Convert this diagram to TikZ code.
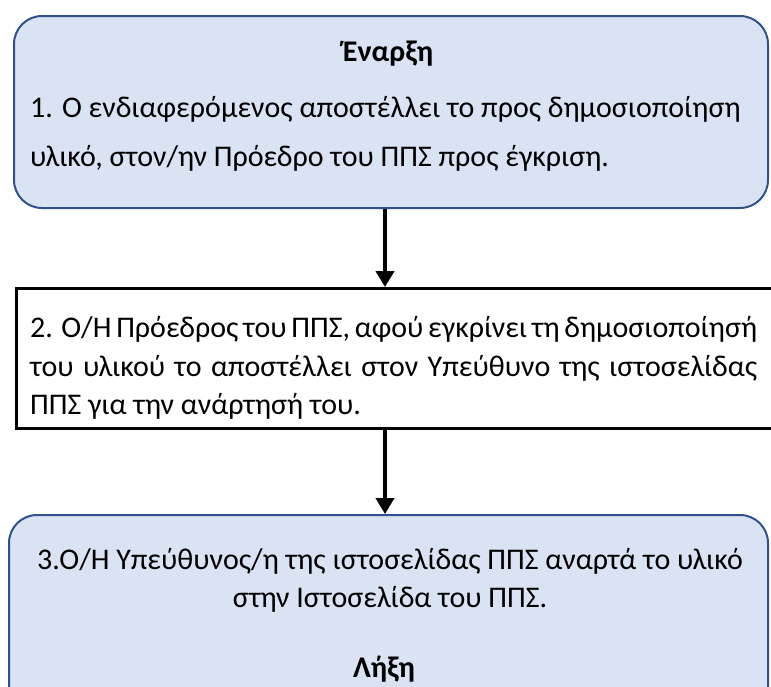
\documentclass[tikz,border=0pt]{standalone}
\usepackage{fontspec}
\setmainfont{Carlito}
\usetikzlibrary{arrows.meta}
\definecolor{boxfill}{HTML}{DAE3F3}
\definecolor{boxline}{HTML}{2F528F}
\begin{document}
\begin{tikzpicture}[x=1pt,y=-1pt,
  roundbox/.style={draw=boxline, fill=boxfill, line width=2pt, rounded corners=28pt, inner sep=0pt},
  plainbox/.style={draw=black, fill=white, line width=3pt, inner sep=0pt},
  txt/.style={font=\fontsize{30}{38}\selectfont, inner sep=0pt},
  flow/.style={line width=4.5pt, -{Triangle[width=18pt,length=16pt]}}]
\useasboundingbox (0,0) rectangle (771,686);
\clip (0,0) rectangle (771,686);
\node[roundbox, minimum width=754pt, minimum height=192pt] (b1) at (391,112) {};
\node[plainbox, minimum width=783pt, minimum height=140pt] (b2) at (408,358.5) {};
\node[roundbox, minimum width=759pt, minimum height=235pt] (b3) at (388.5,632.5) {};
\node[txt, anchor=base] (t0) at (388,61) {\bfseries Έναρξη};
\node[txt, anchor=base west] (t1a) at (30,117) {1. Ο ενδιαφερόμενος αποστέλλει το προς δημοσιοποίηση};
\node[txt, anchor=base west] (t1b) at (30,166) {υλικό, στον/ην Πρόεδρο του ΠΠΣ προς έγκριση.};
\node[txt, anchor=base west] (t2a) at (30,337) {\makebox[727pt][s]{2. Ο/Η Πρόεδρος του ΠΠΣ, αφού εγκρίνει τη δημοσιοποίησή}};
\node[txt, anchor=base west] (t2b) at (30,376) {\makebox[727pt][s]{του υλικού το αποστέλλει στον Υπεύθυνο της ιστοσελίδας}};
\node[txt, anchor=base west] (t2c) at (30,414) {ΠΠΣ για την ανάρτησή του.};
\node[txt, anchor=base] (t3a) at (390,569) {3.Ο/Η Υπεύθυνος/η της ιστοσελίδας ΠΠΣ αναρτά το υλικό};
\node[txt, anchor=base] (t3b) at (390,607) {στην Ιστοσελίδα του ΠΠΣ.};
\node[txt, anchor=base] (t3c) at (384,677) {\bfseries Λήξη};
\coordinate (ax) at (385,0);
\draw[flow] (b1.south -| ax) -- (b2.north -| ax);
\draw[flow] (b2.south -| ax) -- (b3.north -| ax);
\end{tikzpicture}
\end{document}
